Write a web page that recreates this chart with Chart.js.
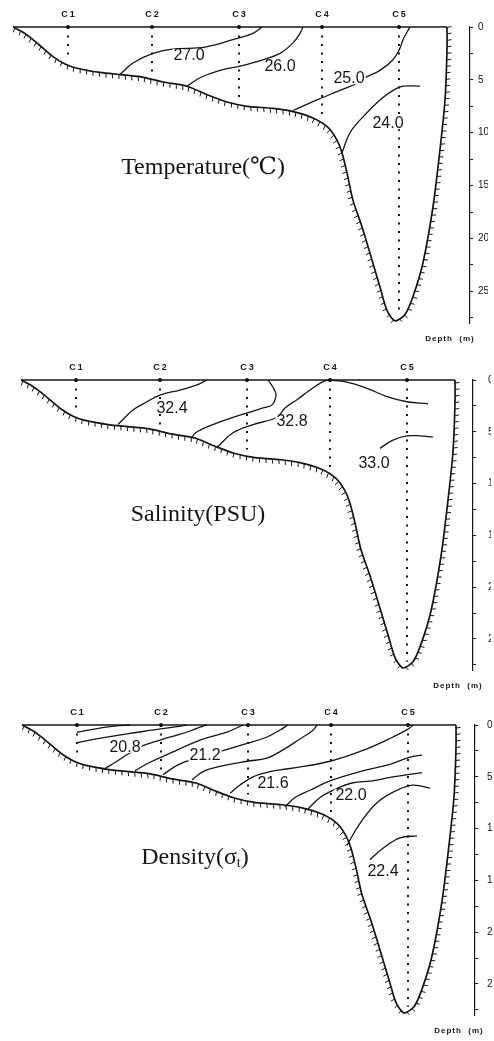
<!DOCTYPE html>
<html>
<head>
<meta charset="utf-8">
<script src="https://cdn.jsdelivr.net/npm/chart.js@4.4.1/dist/chart.umd.min.js"></script>
<style>
  html, body { margin: 0; padding: 0; background: #fff; width: 494px; height: 1041px; overflow: hidden; }
  .panel { position: absolute; left: 0; }
</style>
</head>
<body>
<div class="panel" style="top:0"><canvas id="temp" width="494" height="345"></canvas></div>
<div class="panel" style="top:345px"><canvas id="sal" width="494" height="350"></canvas></div>
<div class="panel" style="top:695px"><canvas id="dens" width="494" height="346"></canvas></div>
<script>
// stations along the transect (x = distance, arbitrary units), depth in m
const stations = ['C1', 'C2', 'C3', 'C4', 'C5'];
const stationX = [55, 139, 226, 309, 386];
const stationDepth = [2.8, 4.7, 6.7, 8.8, 27.2];
const depthTicks = [0, 5, 10, 15, 20, 25];

// sea floor profile
const bottomX = [0, 10, 20, 30, 40, 52, 64, 87, 107, 127, 150, 174, 194, 214, 234, 260, 280, 300, 315, 324, 329, 334, 340, 349, 357, 367, 374, 382, 392, 400, 410, 420, 427, 432, 434, 434];
const bottomDepth = [0, 0.5, 1.2, 2.0, 2.8, 3.5, 3.9, 4.3, 4.5, 4.7, 5.2, 5.6, 6.4, 7.1, 7.5, 7.7, 8.0, 8.6, 9.5, 10.7, 11.9, 13.8, 16.4, 18.9, 21.4, 24.6, 26.8, 27.8, 27.2, 25.5, 22.3, 17.0, 11.6, 6.9, 2.2, 0];

// temperature isolines [x, depth]
const temp27 = [[107, 4.5], [120, 3.4], [140, 2.5], [160, 2.1], [192, 1.9], [220, 1.2], [240, 0.6], [249, 0]];
const temp26 = [[174, 5.6], [187, 4.8], [207, 4.1], [227, 3.7], [250, 3.1], [267, 2.5], [280, 1.5], [287, 0.6], [290, 0]];
const temp25 = [[280, 7.9], [304, 6.9], [327, 6.0], [347, 5.2], [352, 4.8], [367, 4.1], [380, 3.1], [387, 2.0], [390, 1.2], [394, 0.5], [397, 0]];
const temp24 = [[329, 11.9], [337, 10.0], [350, 8.5], [367, 6.9], [380, 6.0], [390, 5.6], [407, 5.6]];
const tempLabels = ['27.0', '26.0', '25.0', '24.0'];
const tempLabelAt = [[176, 2.65], [267, 3.7], [336, 4.85], [375, 9.1]];

// salinity isolines
const sal324 = [[97, 4.3], [112, 2.9], [126, 2.1], [139, 1.45], [159, 0.97], [176, 0.48], [186, 0]];
const sal326 = [[171, 5.5], [176, 5.0], [192, 4.3], [212, 3.6], [229, 3.1], [242, 2.7], [251, 2.4], [255, 1.45], [252, 0.7], [247, 0]];
const sal328 = [[196, 6.5], [212, 5.1], [232, 4.3], [256, 3.6], [264, 2.7], [276, 1.9], [289, 0.97], [301, 0.2], [307, 0]];
const sal329 = [[307, 0], [326, 0.2], [346, 0.8], [366, 1.6], [386, 2.1], [407, 2.3]];
const sal330 = [[359, 6.6], [372, 5.8], [386, 5.4], [399, 5.4], [412, 5.5]];
const salLabels = ['32.4', '32.8', '33.0'];
const salLabelAt = [[151, 2.7], [271, 4.0], [353, 8.0]];

// density isolines
const den206 = [[55, 0.7], [75, 0.35], [92, 0.1], [108, 0]];
const den207 = [[55, 1.7], [80, 1.25], [105, 0.85], [130, 0.5], [155, 0.15], [165, 0]];
const den208 = [[83, 4.2], [95, 3.5], [106, 2.8], [121, 2.0], [138, 1.45], [155, 0.97], [168, 0.58], [181, 0.1], [185, 0]];
const den210 = [[113, 4.4], [128, 3.6], [151, 2.6], [178, 1.45], [205, 0.68], [221, 0]];
const den212 = [[141, 4.8], [155, 3.9], [168, 3.4], [200, 2.5], [221, 1.9], [245, 1.16], [258, 0.48], [266, 0]];
const den214 = [[170, 5.3], [181, 4.5], [198, 4.0], [225, 3.5], [245, 3.2], [261, 2.4], [278, 1.35], [291, 0.5], [295, 0]];
const den216 = [[208, 6.6], [218, 5.8], [231, 5.0], [248, 4.5], [268, 4.2], [308, 3.5], [345, 2.3], [371, 1.16], [386, 0.4], [391, 0]];
const den218 = [[263, 7.9], [273, 7.0], [288, 6.3], [308, 5.4], [338, 4.5], [368, 3.8], [388, 3.1], [400, 2.9]];
const den220 = [[285, 8.2], [298, 7.0], [311, 6.3], [330, 5.6], [350, 5.4], [371, 5.0], [400, 4.6]];
const den222 = [[325, 11.6], [338, 9.5], [355, 7.5], [375, 6.3], [391, 5.8], [408, 6.1]];
const den224 = [[348, 13.0], [361, 11.9], [378, 10.9], [395, 10.7]];
const denLabels = ['20.8', '21.2', '21.6', '22.0', '22.4'];
const denLabelAt = [[103, 2.1], [183, 2.9], [251, 5.6], [329, 6.75], [361, 14.1]];

const INK = '#151515';

function sectionPlugin(cfg) {
  return {
    id: 'section',
    afterDatasetsDraw(chart) {
      const ctx = chart.ctx;
      const px = v => chart.scales.x.getPixelForValue(v);
      const py = v => chart.scales.y.getPixelForValue(v);
      ctx.save();
      ctx.strokeStyle = INK;
      ctx.fillStyle = INK;

      // hatching on the ground side of the bottom profile
      const pts = chart.getDatasetMeta(0).data.map(p => [p.x, p.y]);
      ctx.lineWidth = 1;
      let carry = 2;
      for (let i = 1; i < pts.length; i++) {
        const [x0, y0] = pts[i - 1], [x1, y1] = pts[i];
        const len = Math.hypot(x1 - x0, y1 - y0);
        if (!len) continue;
        const ux = (x1 - x0) / len, uy = (y1 - y0) / len;
        let s = carry;
        while (s < len) {
          const hx = x0 + ux * s, hy = y0 + uy * s;
          ctx.beginPath();
          ctx.moveTo(hx, hy);
          ctx.lineTo(hx - uy * 4.5 + ux * 0.8, hy + ux * 4.5 + uy * 0.8);
          ctx.stroke();
          s += 6.5;
        }
        carry = s - len;
      }

      // station names
      ctx.font = 'bold 9px "Liberation Sans", Arial, sans-serif';
      ctx.letterSpacing = '2px';
      ctx.textAlign = 'center';
      ctx.textBaseline = 'middle';
      stations.forEach((s, i) => ctx.fillText(s, px(stationX[i]) + 1, py(0) - 12));
      ctx.letterSpacing = '0px';

      // isoline labels, breaking the line under them
      ctx.font = '16px "Liberation Sans", Arial, sans-serif';
      cfg.labels.forEach((t, i) => {
        const x = px(cfg.labelAt[i][0]), y = py(cfg.labelAt[i][1]);
        const w = ctx.measureText(t).width;
        ctx.fillStyle = '#fff';
        ctx.fillRect(x - w / 2 - 1, y - 6, w + 2, 12);
        ctx.fillStyle = INK;
        ctx.fillText(t, x, y + 0.5);
      });

      // panel title
      ctx.font = '24px "Liberation Serif", "DejaVu Serif", serif';
      const tx = px(cfg.titleAt[0]), ty = py(cfg.titleAt[1]);
      if (cfg.sub) {
        const w1 = ctx.measureText(cfg.title).width;
        ctx.font = '14px "Liberation Serif", serif';
        const w2 = ctx.measureText(cfg.sub).width;
        ctx.font = '24px "Liberation Serif", "DejaVu Serif", serif';
        const w3 = ctx.measureText(cfg.tail).width;
        let x = tx - (w1 + w2 + w3) / 2;
        ctx.textAlign = 'left';
        ctx.fillText(cfg.title, x, ty);
        x += w1;
        ctx.font = '14px "Liberation Serif", serif';
        ctx.fillText(cfg.sub, x, ty + 6);
        x += w2;
        ctx.font = '24px "Liberation Serif", "DejaVu Serif", serif';
        ctx.fillText(cfg.tail, x, ty);
      } else {
        ctx.fillText(cfg.title, tx, ty);
      }

      // depth unit under the axis
      ctx.font = 'bold 8px "Liberation Sans", Arial, sans-serif';
      ctx.letterSpacing = '1px';
      ctx.textAlign = 'center';
      ctx.fillText('Depth  (m)', px(437), py(29.5));
      ctx.restore();
    }
  };
}

function makeSection(id, cfg) {
  const ds = [];
  ds.push({ data: bottomX.map((x, i) => ({ x, y: bottomDepth[i] })), borderWidth: 1.7, tension: 0.25 });
  ds.push({ data: [{ x: 0, y: 0 }, { x: bottomX[bottomX.length - 1], y: 0 }], borderWidth: 1.7 });
  stationX.forEach((x, i) => ds.push({
    data: [{ x, y: 0 }, { x, y: stationDepth[i] }],
    borderWidth: 2, borderDash: [2, 6.5], pointRadius: [2, 0], pointBackgroundColor: INK, pointBorderWidth: 0
  }));
  cfg.lines.forEach(l => ds.push({ data: l.map(([x, y]) => ({ x, y })), borderWidth: 1.3, tension: 0.4 }));
  ds.forEach(d => {
    d.showLine = true;
    d.borderColor = INK;
    d.clip = false;
    if (d.pointRadius === undefined) d.pointRadius = 0;
    d.pointHoverRadius = 0;
  });

  return new Chart(document.getElementById(id), {
    type: 'scatter',
    data: { datasets: ds },
    options: {
      responsive: false,
      animation: false,
      devicePixelRatio: 1,
      events: [],
      layout: { padding: cfg.padding },
      plugins: { legend: { display: false }, tooltip: { enabled: false } },
      scales: {
        x: { type: 'linear', display: false, min: -10, max: cfg.xMax },
        y: {
          type: 'linear',
          position: 'right',
          reverse: true,
          min: 0,
          max: 28,
          afterFit: s => { s.width = 18; },
          afterBuildTicks: s => {
            const t = [];
            for (let v = 0; v <= 27.5; v += 2.5) t.push({ value: v });
            s.ticks = t;
          },
          grid: { drawOnChartArea: false, tickLength: 3, color: INK, lineWidth: 1 },
          border: { display: true, color: INK, width: 1.2 },
          ticks: {
            padding: cfg.tickPad,
            color: INK,
            autoSkip: false,
            maxRotation: 0,
            font: { family: '"Liberation Sans", Arial, sans-serif', size: 10 },
            callback: v => depthTicks.includes(v) ? String(v) : ''
          }
        }
      }
    },
    plugins: [sectionPlugin(cfg)]
  });
}

makeSection('temp', {
  padding: { left: 3, right: 6, top: 27, bottom: 22 },
  xMax: 457, tickPad: 5,
  lines: [temp27, temp26, temp25, temp24],
  labels: tempLabels, labelAt: tempLabelAt,
  title: 'Temperature(℃)', titleAt: [190, 13.3]
});

makeSection('sal', {
  padding: { left: 11, right: 3, top: 35, bottom: 25 },
  xMax: 452, tickPad: 12,
  lines: [sal324, sal326, sal328, sal329, sal330],
  labels: salLabels, labelAt: salLabelAt,
  title: 'Salinity(PSU)', titleAt: [177, 13.0]
});

makeSection('dens', {
  padding: { left: 12, right: 1, top: 30, bottom: 26 },
  xMax: 453, tickPad: 9,
  lines: [den206, den207, den208, den210, den212, den214, den216, den218, den220, den222, den224],
  labels: denLabels, labelAt: denLabelAt,
  title: 'Density(σ', sub: 't', tail: ')', titleAt: [173, 12.8]
});
</script>
</body>
</html>
